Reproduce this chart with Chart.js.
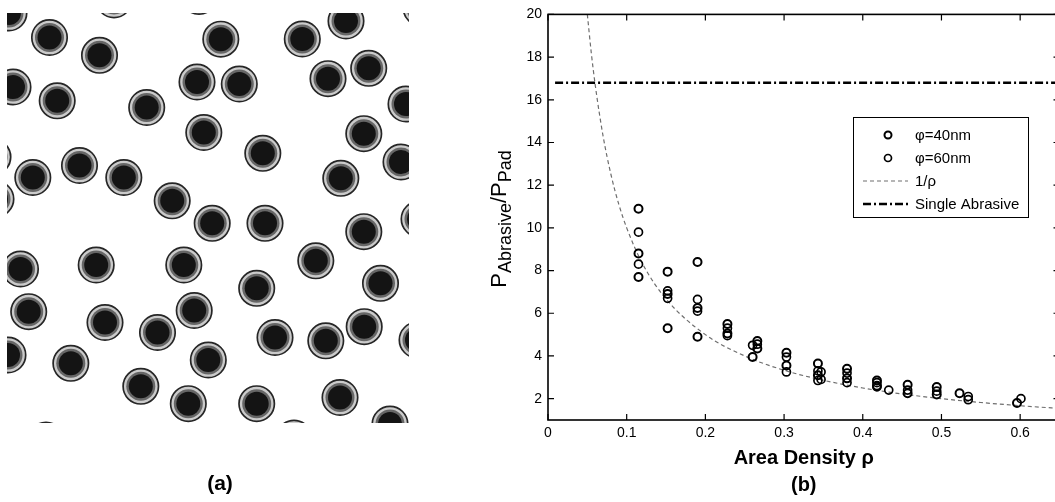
<!DOCTYPE html>
<html>
<head>
<meta charset="utf-8">
<title>Abrasive pressure vs area density</title>
<script src="https://cdn.jsdelivr.net/npm/chart.js@4.4.1/dist/chart.umd.min.js"></script>
<style>
  html, body { margin: 0; padding: 0; background: #fff; overflow: hidden; }
  #panelA { position: absolute; left: 0; top: 0; }
  #panelB { position: absolute; left: 440px; top: 0; }
</style>
</head>
<body>
<canvas id="panelA" width="440" height="502"></canvas>
<canvas id="panelB" width="640" height="502"></canvas>
<script>
const FONT = '"Liberation Sans", Arial, Helvetica, sans-serif';
Chart.defaults.font.family = FONT;
Chart.defaults.color = "#000";

// (a) particle centres (pixel units of the panel)
const particleX = [
  49.5, 99.5, 220.8, 302.3, 197, 239.3, 328, 368.7, 57.2, 146.7, 203.8, 363.8,
  262.8, 79.5, 32.8, 123.8, 340.8, 172.2, 212.2, 265, 363.8,
  20.5, 96.2, 183.8, 315.8, 256.7, 380.5, 28.7, 105, 194.2, 157.5, 275, 325.8,
  364.2, 70.8, 208.3, 140.8, 188.3, 256.7, 340,
  9, 114, 199, 346, 421, 13, 406, -7, -4, 401, 419, 417, 8, 390, 46, 294,
];
const particleY = [
  37.5, 55.3, 39.2, 39, 82, 84, 78.7, 68.3, 100.8, 107.5, 132.5, 133.7,
  153.3, 165.5, 177.5, 177.5, 178.3, 200.8, 223.3, 223.3, 231.7,
  269, 265, 265, 260.8, 288.3, 283.3, 311.7, 322.5, 310.5, 332.5, 337.5, 340.8,
  326.7, 363.3, 360, 386.3, 403.7, 403.7, 397.5,
  13, 0, -3.5, 21, 8, 87, 104, 157, 199, 162, 219, 340, 355, 424, 440, 438,
];

// (b) measured pressure ratios
const rho40 = [
  0.115, 0.115, 0.115, 0.152, 0.152, 0.152, 0.19, 0.19, 0.19, 0.228, 0.228,
  0.266, 0.266, 0.26, 0.303, 0.303, 0.343, 0.343, 0.38, 0.38, 0.418, 0.418,
  0.457, 0.457, 0.494, 0.494, 0.523, 0.596,
];
const ratio40 = [
  10.9, 8.8, 7.7, 7.95, 6.9, 5.3, 8.4, 6.25, 4.9, 5.5, 5.05,
  4.7, 4.35, 3.95, 4.15, 3.55, 3.65, 3.1, 3.4, 2.95, 2.85, 2.6,
  2.65, 2.25, 2.55, 2.2, 2.25, 1.8,
];
const rho60 = [
  0.115, 0.115, 0.152, 0.152, 0.19, 0.19, 0.228, 0.228, 0.26, 0.266, 0.303,
  0.303, 0.343, 0.343, 0.347, 0.347, 0.38, 0.38, 0.418, 0.418, 0.433, 0.457,
  0.494, 0.534, 0.534, 0.601,
];
const ratio60 = [
  9.8, 8.3, 7.05, 6.7, 6.65, 6.1, 5.3, 4.95, 4.5, 4.55, 3.95,
  3.25, 3.3, 2.85, 3.25, 2.9, 3.2, 2.75, 2.75, 2.55, 2.4, 2.4,
  2.35, 2.1, 1.95, 2.0,
];
const curveRho = [0.05, 0.055, 0.06, 0.07, 0.08, 0.09, 0.1, 0.12, 0.15, 0.2, 0.25, 0.3, 0.35, 0.4, 0.45, 0.5, 0.55, 0.6, 0.65];
const curveRatio = [20, 18.2, 16.7, 14.3, 12.5, 11.1, 10, 8.33, 6.67, 5, 4, 3.33, 2.86, 2.5, 2.22, 2, 1.82, 1.67, 1.54];
const singleRho = [0.009, 0.65];
const singleRatio = [16.8, 16.8];

const xTicks = [0, 0.1, 0.2, 0.3, 0.4, 0.5, 0.6];
const yTicks = [2, 4, 6, 8, 10, 12, 14, 16, 18, 20];

const yTitleParts = [
  { text: "P", size: 22, shift: 0 },
  { text: "Abrasive", size: 18, shift: 5 },
  { text: "/P", size: 22, shift: 0 },
  { text: "Pad", size: 18, shift: 5 },
];

function toPoints(xs, ys) {
  return xs.map((x, i) => ({ x: x, y: ys[i] }));
}

// ---------- panel (a) ----------
const particles = toPoints(particleX, particleY);
const edgeClip = { left: 0, top: 0, right: -24, bottom: 0 };

new Chart(document.getElementById("panelA"), {
  type: "scatter",
  data: {
    datasets: [
      { data: particles, pointRadius: 12, backgroundColor: "#141414", borderWidth: 0, clip: edgeClip },
      { data: particles, pointRadius: 14.5, backgroundColor: "#666666", borderWidth: 0, clip: edgeClip },
      { data: particles, pointRadius: 17.7, backgroundColor: "#cbcbcb", borderColor: "#262626", borderWidth: 1.7, clip: edgeClip },
    ],
  },
  options: {
    responsive: false,
    animation: false,
    events: [],
    layout: { autoPadding: false, padding: { left: 7, right: 7, top: 13, bottom: 0 } },
    scales: {
      x: { display: false, min: 7, max: 433 },
      y: { display: false, min: 13, max: 423, reverse: true },
    },
    plugins: {
      legend: { display: false },
      tooltip: { enabled: false },
      title: {
        display: true,
        text: "(a)",
        position: "bottom",
        font: { size: 21, weight: "bold", lineHeight: 1.2 },
        padding: { top: 48.4, bottom: 5.4 },
      },
    },
  },
});

// ---------- panel (b) ----------
// box with inward ticks on all four sides, matlab style
const matlabFrame = {
  id: "matlabFrame",
  afterDatasetsDraw(chart) {
    const { ctx, chartArea: a, scales } = chart;
    const len = 6;
    ctx.save();
    ctx.strokeStyle = "#000";
    ctx.lineWidth = 1.6;
    ctx.strokeRect(a.left, a.top, a.right - a.left, a.bottom - a.top);
    ctx.lineWidth = 1.2;
    ctx.beginPath();
    scales.x.ticks.forEach((t) => {
      const px = scales.x.getPixelForValue(t.value);
      ctx.moveTo(px, a.bottom);
      ctx.lineTo(px, a.bottom - len);
      ctx.moveTo(px, a.top);
      ctx.lineTo(px, a.top + len);
    });
    scales.y.ticks.forEach((t) => {
      const py = scales.y.getPixelForValue(t.value);
      ctx.moveTo(a.left, py);
      ctx.lineTo(a.left + len, py);
      ctx.moveTo(a.right, py);
      ctx.lineTo(a.right - len, py);
    });
    ctx.stroke();
    ctx.restore();
  },
};

const boxLegend = {
  id: "boxLegend",
  afterDraw(chart, args, opts) {
    const { ctx } = chart;
    ctx.save();
    ctx.fillStyle = "#fff";
    ctx.fillRect(opts.left, opts.top, opts.width, opts.height);
    ctx.strokeStyle = "#000";
    ctx.lineWidth = 1;
    ctx.strokeRect(opts.left + 0.5, opts.top + 0.5, opts.width, opts.height);
    chart.data.datasets.forEach((ds, i) => {
      const cy = opts.top + 18 + i * opts.rowHeight;
      ctx.beginPath();
      ctx.strokeStyle = ds.borderColor;
      if (ds.showLine) {
        ctx.setLineDash(ds.borderDash || []);
        ctx.lineWidth = ds.borderWidth;
        ctx.moveTo(opts.left + 10, cy);
        ctx.lineTo(opts.left + 55, cy);
        ctx.stroke();
        ctx.setLineDash([]);
      } else {
        ctx.lineWidth = ds.pointBorderWidth;
        ctx.arc(opts.left + 35, cy, ds.pointRadius - 0.5, 0, Math.PI * 2);
        ctx.stroke();
      }
      ctx.fillStyle = "#000";
      ctx.font = "15px " + FONT;
      ctx.textBaseline = "middle";
      ctx.fillText(ds.label, opts.left + 62, cy + 1);
    });
    ctx.restore();
  },
};

// rotated y title with subscripts
const yTitle = {
  id: "yTitle",
  afterDraw(chart, args, opts) {
    const { ctx } = chart;
    ctx.save();
    ctx.translate(opts.x, opts.y);
    ctx.rotate(-Math.PI / 2);
    ctx.fillStyle = "#000";
    ctx.textBaseline = "alphabetic";
    const widths = yTitleParts.map((p) => {
      ctx.font = p.size + "px " + FONT;
      return ctx.measureText(p.text).width;
    });
    let cx = -widths.reduce((s, w) => s + w, 0) / 2;
    yTitleParts.forEach((p, i) => {
      ctx.font = p.size + "px " + FONT;
      ctx.fillText(p.text, cx, p.shift);
      cx += widths[i];
    });
    ctx.restore();
  },
};

new Chart(document.getElementById("panelB"), {
  type: "scatter",
  data: {
    datasets: [
      {
        label: "φ=40nm",
        data: toPoints(rho40, ratio40),
        pointRadius: 4,
        pointBorderWidth: 2,
        borderWidth: 2,
        borderColor: "#000",
        backgroundColor: "rgba(0,0,0,0)",
      },
      {
        label: "φ=60nm",
        data: toPoints(rho60, ratio60),
        pointRadius: 4,
        pointBorderWidth: 1.7,
        borderWidth: 1.7,
        borderColor: "#000",
        backgroundColor: "rgba(0,0,0,0)",
      },
      {
        label: "1/ρ",
        data: toPoints(curveRho, curveRatio),
        showLine: true,
        pointRadius: 0,
        borderColor: "#6e6e6e",
        borderWidth: 1.2,
        borderDash: [4, 3],
        cubicInterpolationMode: "monotone",
      },
      {
        label: "Single Abrasive",
        data: toPoints(singleRho, singleRatio),
        showLine: true,
        pointRadius: 0,
        borderColor: "#000",
        borderWidth: 2.5,
        borderDash: [8, 3, 2, 3],
      },
    ],
  },
  options: {
    responsive: false,
    animation: false,
    events: [],
    layout: { autoPadding: false, padding: { top: 10, right: 20.5, left: 0, bottom: 0 } },
    scales: {
      x: {
        type: "linear",
        min: 0,
        max: 0.65,
        grid: { display: false, drawTicks: false },
        border: { display: false },
        afterBuildTicks: (s) => { s.ticks = xTicks.map((v) => ({ value: v })); },
        afterFit: (s) => { s.height = 82; },
        ticks: { padding: 5, font: { size: 14 }, color: "#000", callback: (v) => String(v) },
        title: {
          display: true,
          text: ["Area Density ρ", "(b)"],
          color: "#000",
          font: { size: 20, weight: "bold", lineHeight: 1.35 },
          padding: { top: 0, bottom: 3.5 },
        },
      },
      y: {
        type: "linear",
        min: 1,
        max: 20,
        grid: { display: false, drawTicks: false },
        border: { display: false },
        afterBuildTicks: (s) => { s.ticks = yTicks.map((v) => ({ value: v })); },
        afterFit: (s) => { s.width = 108; },
        ticks: { padding: 6, font: { size: 14 }, color: "#000", callback: (v) => String(v) },
      },
    },
    plugins: {
      legend: { display: false },
      tooltip: { enabled: false },
      boxLegend: { left: 413, top: 117, width: 175, height: 100, rowHeight: 23 },
      yTitle: { x: 66, y: 219 },
    },
  },
  plugins: [matlabFrame, boxLegend, yTitle],
});
</script>
</body>
</html>
